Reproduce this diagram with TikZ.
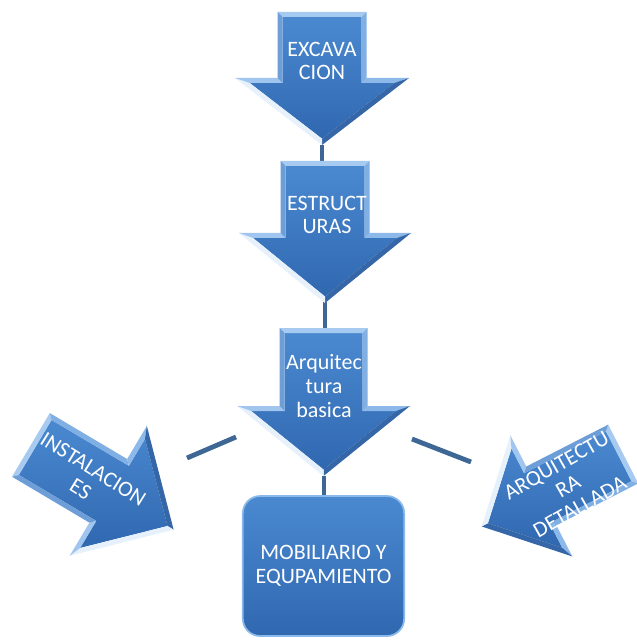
\documentclass[tikz,border=0pt]{standalone}
\usepackage{fontspec}
\setmainfont{Carlito}
\definecolor{faceTop}{HTML}{4A89D0}
\definecolor{faceBot}{HTML}{3068B0}
\definecolor{bvTop}{HTML}{A7CAF1}
\definecolor{bvRS}{HTML}{80AFE4}
\definecolor{bvRW}{HTML}{8CB8EA}
\definecolor{bvRSl}{HTML}{3466A8}
\definecolor{bvLSl}{HTML}{E6F1FC}
\definecolor{bvLW}{HTML}{A0C5EF}
\definecolor{bvLS}{HTML}{6D9ED8}
\definecolor{connCol}{HTML}{3E6796}
\definecolor{boxEdge}{HTML}{8CB9EC}

% Block arrow pointing along local +y, origin at the middle of its back edge.
% #1 half shaft width, #2 shaft length, #3 half head width, #4 head length, #5 bevel
\newcommand\bevelarrow[5]{%
  \pgfmathsetmacro\bvL{sqrt((#3)*(#3)+(#4)*(#4))}%
  \pgfmathsetmacro\bvX{#3-#5*#4/\bvL-#5*#3*(1+#3/\bvL)/#4}%
  \pgfmathsetmacro\bvY{#2+#4-#5*\bvL/#3}%
  \coordinate (p1) at ({-#1},0);
  \coordinate (p2) at ({#1},0);
  \coordinate (p3) at ({#1},{#2});
  \coordinate (p4) at ({#3},{#2});
  \coordinate (p5) at (0,{#2+#4});
  \coordinate (p6) at ({-#3},{#2});
  \coordinate (p7) at ({-#1},{#2});
  \coordinate (q1) at ({-#1+#5},{#5});
  \coordinate (q2) at ({#1-#5},{#5});
  \coordinate (q3) at ({#1-#5},{#2+#5});
  \coordinate (q4) at ({\bvX},{#2+#5});
  \coordinate (q5) at (0,{\bvY});
  \coordinate (q6) at ({-\bvX},{#2+#5});
  \coordinate (q7) at ({-#1+#5},{#2+#5});
  \shade[top color=faceTop,bottom color=faceBot]
    (q1)--(q2)--(q3)--(q4)--(q5)--(q6)--(q7)--cycle;
  \fill[bvTop] (p1)--(p2)--(q2)--(q1)--cycle;
  \fill[bvRS]  (p2)--(p3)--(q3)--(q2)--cycle;
  \fill[bvRW]  (p3)--(p4)--(q4)--(q3)--cycle;
  \fill[bvRSl] (p4)--(p5)--(q5)--(q4)--cycle;
  \fill[bvLSl] (p5)--(p6)--(q6)--(q5)--cycle;
  \fill[bvLW]  (p6)--(p7)--(q7)--(q6)--cycle;
  \fill[bvLS]  (p7)--(p1)--(q1)--(q7)--cycle;
}

\begin{document}
\begin{tikzpicture}[x=0.75pt,y=-0.75pt,
  conn/.style={draw=connCol,line width=3.6pt},
  lbl/.style={text=white,align=center,font=\fontsize{16.5}{17.8}\selectfont,inner sep=0pt},
  boxstyle/.style={rounded corners=13pt,draw=boxEdge,line width=1.3pt,
    top color=faceTop,bottom color=faceBot,text=white,align=center,
    font=\fontsize{16.5}{17.8}\selectfont}]

\fill[white] (0,0) rectangle (636,641);
\useasboundingbox (0,0) rectangle (636,641);

% connector ends
\coordinate (tipA) at (322,145);
\coordinate (topB) at (322,161);
\coordinate (tipB) at (325,302);
\coordinate (topC) at (325,328);
\coordinate (tipC) at (324,476);
\coordinate (boxTop) at (324,496);
\coordinate (lA) at (187,458);
\coordinate (lB) at (236,437);
\coordinate (rA) at (412,439);
\coordinate (rB) at (471,462);

\draw[conn] (tipA) -- (topB);
\draw[conn] (tipB) -- (topC);
\draw[conn] (tipC) -- (boxTop);
\draw[conn] (lA) -- (lB);
\draw[conn] (rA) -- (rB);

% vertical chain
\begin{scope}[shift={(322,12)}]
  \bevelarrow{44.5}{66}{87}{67}{5}
\end{scope}
\begin{scope}[shift={(325,161)}]
  \bevelarrow{44.5}{72}{86}{70}{5}
\end{scope}
\begin{scope}[shift={(323.5,328)}]
  \bevelarrow{44}{78}{86.5}{70}{5}
\end{scope}

% side arrows
\begin{scope}[shift={(30.9,444.9)},rotate=59.3]
  \bevelarrow{37}{90}{75.5}{76}{5}
\end{scope}
\begin{scope}[shift={(623.2,454)},rotate=-62.9]
  \bevelarrow{33}{92}{68}{67}{5}
\end{scope}

% box
\node[boxstyle,minimum width=121pt,minimum height=105pt] (mob) at (323.5,566)
  {MOBILIARIO Y\\EQUPAMIENTO};

% labels
\node[lbl] (exc) at (322,61) {EXCAVA\\CION};
\node[lbl] (est) at (327,215) {ESTRUCT\\URAS};
\node[lbl] (arb) at (324,386) {Arquitec\\tura\\basica};
\node[lbl,rotate=-32] (ins) at (87,479) {INSTALACION\\ES};
\node[lbl,rotate=29.5] (ard) at (568,486) {ARQUITECTU\\RA\\DETALLADA};

\end{tikzpicture}
\end{document}
